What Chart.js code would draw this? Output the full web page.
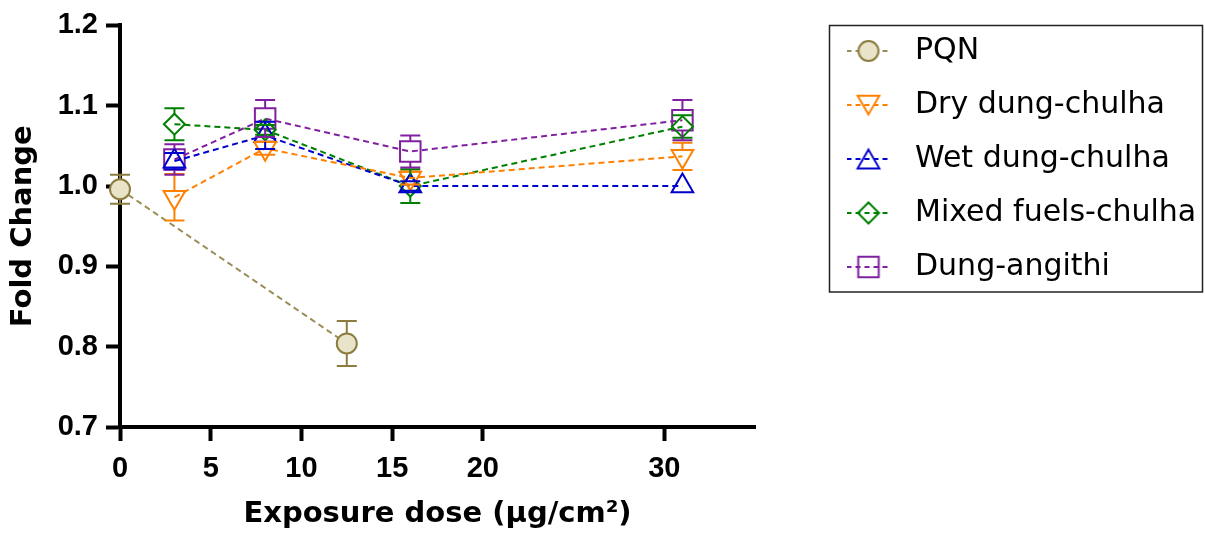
<!DOCTYPE html>
<html lang="en">
<head>
<meta charset="UTF-8">
<title>Fold Change vs Exposure dose</title>
<script src="https://cdn.jsdelivr.net/npm/chart.js@4.4.0/dist/chart.umd.min.js"></script>
<style>
  html, body { margin: 0; padding: 0; background: #fff; }
  #wrap { width: 1205px; height: 542px; }
</style>
</head>
<body>
<div id="wrap"><canvas id="chart" width="1205" height="542"></canvas></div>
<script>
// ---- data ----
const seriesNames = ['PQN', 'Dry dung-chulha', 'Wet dung-chulha', 'Mixed fuels-chulha', 'Dung-angithi'];

const pqnDose = [0, 12.5];
const pqnFold = [0.996, 0.804];
const pqnErr  = [0.018, 0.028];

const fuelDose = [3, 8, 16, 31];
const dryFold     = [0.986, 1.047, 1.010, 1.037];
const dryErr      = [0.029, 0.008, 0.008, 0.017];
const wetFold     = [1.031, 1.063, 1.000, 1.000];
const wetErr      = [0.010, 0.017, 0.006, 0];
const mixedFold   = [1.077, 1.070, 1.000, 1.074];
const mixedErr    = [0.020, 0.006, 0.021, 0.014];
const angithiFold = [1.033, 1.084, 1.043, 1.082];
const angithiErr  = [0.019, 0.023, 0.020, 0.025];

const xTickValues = [0, 5, 10, 15, 20, 30];
const yTickValues = [0.7, 0.8, 0.9, 1.0, 1.1, 1.2];

// ---- styling ----
const colors = {
  pqn: '#8c7d3f', pqnFill: '#e8e3c9', pqnLine: '#9a8c55',
  dry: '#ff8000', wet: '#0000cc', mixed: '#008000', angithi: '#8020a0'
};

function pts(xs, ys) {
  return xs.map((x, i) => ({ x: x, y: ys[i] }));
}

function series(label, xs, ys, errs, color, lineColor, style) {
  return Object.assign({
    label: label,
    data: pts(xs, ys),
    errors: errs,
    borderColor: lineColor,
    borderWidth: 2,
    borderDash: [6, 4],
    pointBorderColor: color,
    pointBackgroundColor: 'rgba(0,0,0,0)',
    pointBorderWidth: 2,
    pointHoverRadius: style.pointRadius,
    tension: 0,
    fill: false,
    clip: false,
    barColor: color
  }, style);
}

const datasets = [
  series(seriesNames[0], pqnDose, pqnFold, pqnErr, colors.pqn, colors.pqnLine,
    { pointStyle: 'circle', pointRadius: 10, pointBackgroundColor: colors.pqnFill, gapUp: 10, gapDown: 10 }),
  series(seriesNames[1], fuelDose, dryFold, dryErr, colors.dry, colors.dry,
    { pointStyle: 'triangle', pointRotation: 180, pointRadius: 12.5, gapUp: 6.5, gapDown: 12.5 }),
  series(seriesNames[2], fuelDose, wetFold, wetErr, colors.wet, colors.wet,
    { pointStyle: 'triangle', pointRadius: 12.5, gapUp: 12.5, gapDown: 6.5 }),
  series(seriesNames[3], fuelDose, mixedFold, mixedErr, colors.mixed, colors.mixed,
    { pointStyle: 'rectRot', pointRadius: 10.5, gapUp: 10.5, gapDown: 10.5 }),
  series(seriesNames[4], fuelDose, angithiFold, angithiErr, colors.angithi, colors.angithi,
    { pointStyle: 'rect', pointRadius: 14.5, gapUp: 10.5, gapDown: 10.5 })
];

// legend sample: dashed line with the marker on top
function legendSample(ds) {
  const c = document.createElement('canvas');
  c.width = 44; c.height = 30;
  const g = c.getContext('2d');
  const cx = 22, cy = 15;
  g.strokeStyle = ds.borderColor;
  g.lineWidth = 2;
  g.setLineDash([5, 4]);
  g.beginPath(); g.moveTo(0, cy); g.lineTo(44, cy); g.stroke();
  g.setLineDash([]);
  g.strokeStyle = ds.pointBorderColor;
  g.fillStyle = ds.pointBackgroundColor;
  g.beginPath();
  const r = ds.pointRadius;
  if (ds.pointStyle === 'circle') {
    g.arc(cx, cy, r, 0, Math.PI * 2);
  } else if (ds.pointStyle === 'triangle') {
    const s = ds.pointRotation === 180 ? -1 : 1;
    const oy = s * r * 0.25;   // centre the box vertically
    g.moveTo(cx, cy - s * r + oy);
    g.lineTo(cx + r * 0.866, cy + s * r / 2 + oy);
    g.lineTo(cx - r * 0.866, cy + s * r / 2 + oy);
  } else if (ds.pointStyle === 'rectRot') {
    g.moveTo(cx - r, cy); g.lineTo(cx, cy - r); g.lineTo(cx + r, cy); g.lineTo(cx, cy + r);
  } else {
    const h = r * Math.SQRT1_2;
    g.rect(cx - h, cy - h, 2 * h, 2 * h);
  }
  g.closePath();
  g.fill();
  g.stroke();
  return c;
}
const legendImages = datasets.map(legendSample);

// error bars drawn through the scales
const errorBars = {
  id: 'errorBars',
  afterDatasetsDraw(chart) {
    const ctx = chart.ctx;
    const xs = chart.scales.x, ys = chart.scales.y;
    chart.data.datasets.forEach((ds, i) => {
      if (!chart.isDatasetVisible(i)) return;
      ctx.save();
      ctx.strokeStyle = ds.barColor;
      ctx.lineWidth = 2;
      ctx.setLineDash([]);
      ds.data.forEach((p, j) => {
        const e = ds.errors[j];
        if (!e) return;
        const px = xs.getPixelForValue(p.x);
        const py = ys.getPixelForValue(p.y);
        const top = ys.getPixelForValue(p.y + e);
        const bot = ys.getPixelForValue(p.y - e);
        ctx.beginPath();
        if (py - ds.gapUp > top) { ctx.moveTo(px, py - ds.gapUp); ctx.lineTo(px, top); }
        if (py + ds.gapDown < bot) { ctx.moveTo(px, py + ds.gapDown); ctx.lineTo(px, bot); }
        ctx.moveTo(px - 10, top); ctx.lineTo(px + 10, top);
        ctx.moveTo(px - 10, bot); ctx.lineTo(px + 10, bot);
        ctx.stroke();
      });
      ctx.restore();
    });
  }
};

// legend sits in a framed box to the right
const legendBox = {
  id: 'legendBox',
  afterInit(chart) {
    const lg = chart.legend;
    const fit = lg.fit.bind(lg);
    lg.fit = function () { fit(); this.width = 450; };
  },
  afterLayout(chart) {
    const lg = chart.legend;
    lg.left = 813; lg.right = 1205;
    lg.top = 12; lg.bottom = 12 + lg.height;
  },
  afterDraw(chart) {
    const ctx = chart.ctx;
    ctx.save();
    ctx.strokeStyle = '#222';
    ctx.lineWidth = 1.5;
    ctx.strokeRect(829.5, 25.5, 373, 266.5);
    ctx.restore();
  }
};

const tickFont = { family: '"Liberation Sans", Arial, sans-serif', size: 29, weight: 'bold' };
const titleFont = { family: '"DejaVu Sans", sans-serif', size: 29, weight: 'bold' };

new Chart(document.getElementById('chart'), {
  type: 'line',
  data: { datasets: datasets },
  options: {
    responsive: false,
    animation: false,
    events: [],
    layout: { padding: { top: 24, left: 0, right: 0, bottom: 0 } },
    scales: {
      x: {
        type: 'linear',
        min: 0, max: 35,
        afterBuildTicks: s => { s.ticks = xTickValues.map(v => ({ value: v })); },
        afterFit: s => { s.height = 115; },
        border: { color: '#000', width: 4 },
        grid: { drawOnChartArea: false, drawTicks: true, tickLength: 14, tickWidth: 4, tickColor: '#000' },
        ticks: { color: '#000', font: tickFont, padding: 11, maxRotation: 0 },
        title: { display: true, text: 'Exposure dose (µg/cm²)', color: '#000', font: titleFont, padding: { top: 0, bottom: 10 } }
      },
      y: {
        type: 'linear',
        min: 0.7, max: 1.2,
        afterBuildTicks: s => { s.ticks = yTickValues.map(v => ({ value: v })); },
        afterFit: s => { s.width = 120; },
        border: { color: '#000', width: 4 },
        grid: { drawOnChartArea: false, drawTicks: true, tickLength: 14, tickWidth: 4, tickColor: '#000' },
        ticks: { color: '#000', font: tickFont, padding: 8, callback: v => Number(v).toFixed(1) },
        title: { display: true, text: 'Fold Change', color: '#000', font: titleFont, padding: { top: 6, bottom: 0 } }
      }
    },
    plugins: {
      tooltip: { enabled: false },
      legend: {
        position: 'right',
        align: 'start',
        labels: {
          color: '#000',
          font: { family: '"DejaVu Sans", sans-serif', size: 30 },
          padding: 24,
          usePointStyle: true,
          pointStyleWidth: 63,
          generateLabels(chart) {
            const items = Chart.defaults.plugins.legend.labels.generateLabels(chart);
            items.forEach((it, i) => { it.pointStyle = legendImages[i]; it.rotation = 0; });
            return items;
          }
        }
      }
    }
  },
  plugins: [errorBars, legendBox]
});
</script>
</body>
</html>
